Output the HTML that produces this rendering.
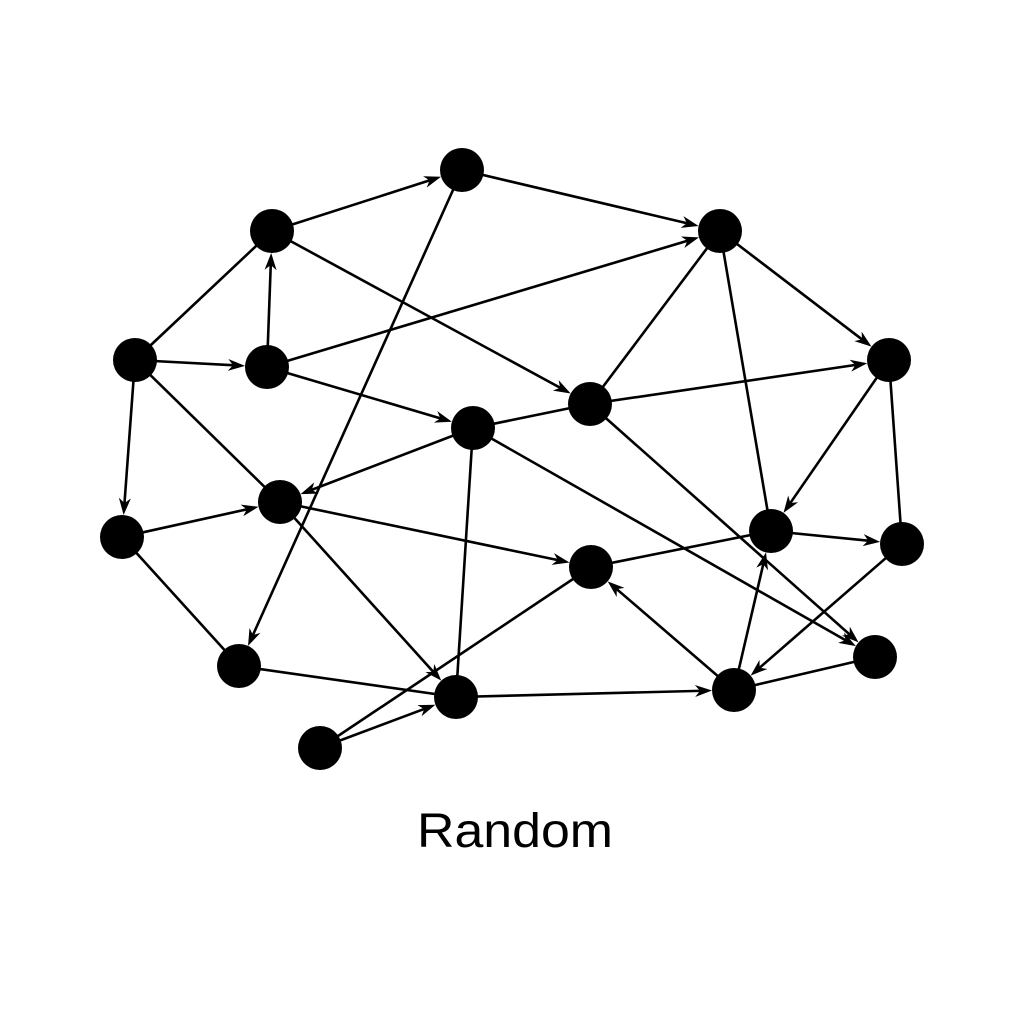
<!DOCTYPE html>
<html><head><meta charset="utf-8"><style>
html,body{margin:0;padding:0;background:#fff;width:1024px;height:1024px;overflow:hidden}
svg{display:block}
</style></head><body>
<svg id="chart" width="1024" height="1024" viewBox="0 0 1024 1024">
<rect width="1024" height="1024" fill="#fff"/>
<g id="edges"></g>
<g id="nodes"></g>
<text x="515" y="847" text-anchor="middle" font-family="Liberation Sans, sans-serif" font-size="48" textLength="196" lengthAdjust="spacingAndGlyphs" fill="#000">Random</text>
</svg>
<script>
const nodeIds = ["A","B","C","D","E","F","G","H","I","J","K","L","M","N","O","P","Q","R"];
const nodeX = [462,272,720,135,267,889,590,473,280,122,771,902,591,239,875,456,734,320];
const nodeY = [170,231,231,360,367,360,404,428,502,537,531,544,567,666,657,697,690,748];
const edgeFrom = ["B","A","A","D","E","D","E","B","C","G","C","E","G","H","H","D","D","I","J","I","J","N","H","H","G","F","F","K","M","L","Q","Q","O","P","R","R"];
const edgeTo   = ["A","C","N","B","B","E","C","G","F","C","K","H","F","G","I","J","I","P","I","M","N","P","P","O","O","K","L","L","K","Q","M","K","Q","Q","P","M"];
const edgeDir  = [1,1,1,0,1,1,1,1,1,0,0,1,1,0,1,1,0,1,1,1,0,0,0,1,1,1,0,1,0,1,1,1,0,1,1,0];
const R = 22;
const NS = "http://www.w3.org/2000/svg";
const eg = document.getElementById("edges"), ng = document.getElementById("nodes");
function px(id){return nodeX[nodeIds.indexOf(id)];}
function py(id){return nodeY[nodeIds.indexOf(id)];}
for(let i=0;i<edgeFrom.length;i++){
  const x1=px(edgeFrom[i]),y1=py(edgeFrom[i]),x2=px(edgeTo[i]),y2=py(edgeTo[i]);
  const dx=x2-x1,dy=y2-y1,L=Math.hypot(dx,dy),ux=dx/L,uy=dy/L;
  const tx=x2-ux*R,ty=y2-uy*R;
  const ln=document.createElementNS(NS,"line");
  
  
  ln.setAttribute("x1",x1);ln.setAttribute("y1",y1);
  ln.setAttribute("x2",edgeDir[i]?tx-ux*8:x2);ln.setAttribute("y2",edgeDir[i]?ty-uy*8:y2);
  ln.setAttribute("stroke","#000");ln.setAttribute("stroke-width","2.6");
  eg.appendChild(ln);
  if(edgeDir[i]){
    const al=17,aw=6,nb=12;
    const bx=tx-ux*al,by=ty-uy*al,nx=-uy,ny=ux;
    const nbx=tx-ux*nb,nby=ty-uy*nb;
    const p=document.createElementNS(NS,"polygon");
    
    
    p.setAttribute("points",`${tx},${ty} ${bx+nx*aw},${by+ny*aw} ${nbx},${nby} ${bx-nx*aw},${by-ny*aw}`);
    p.setAttribute("fill","#000");
    eg.appendChild(p);
  }
}
for(let i=0;i<nodeIds.length;i++){
  const c=document.createElementNS(NS,"circle");
  
  
  c.setAttribute("cx",nodeX[i]);c.setAttribute("cy",nodeY[i]);c.setAttribute("r",R);
  c.setAttribute("fill","#000");
  ng.appendChild(c);
}
</script>
</body></html>
